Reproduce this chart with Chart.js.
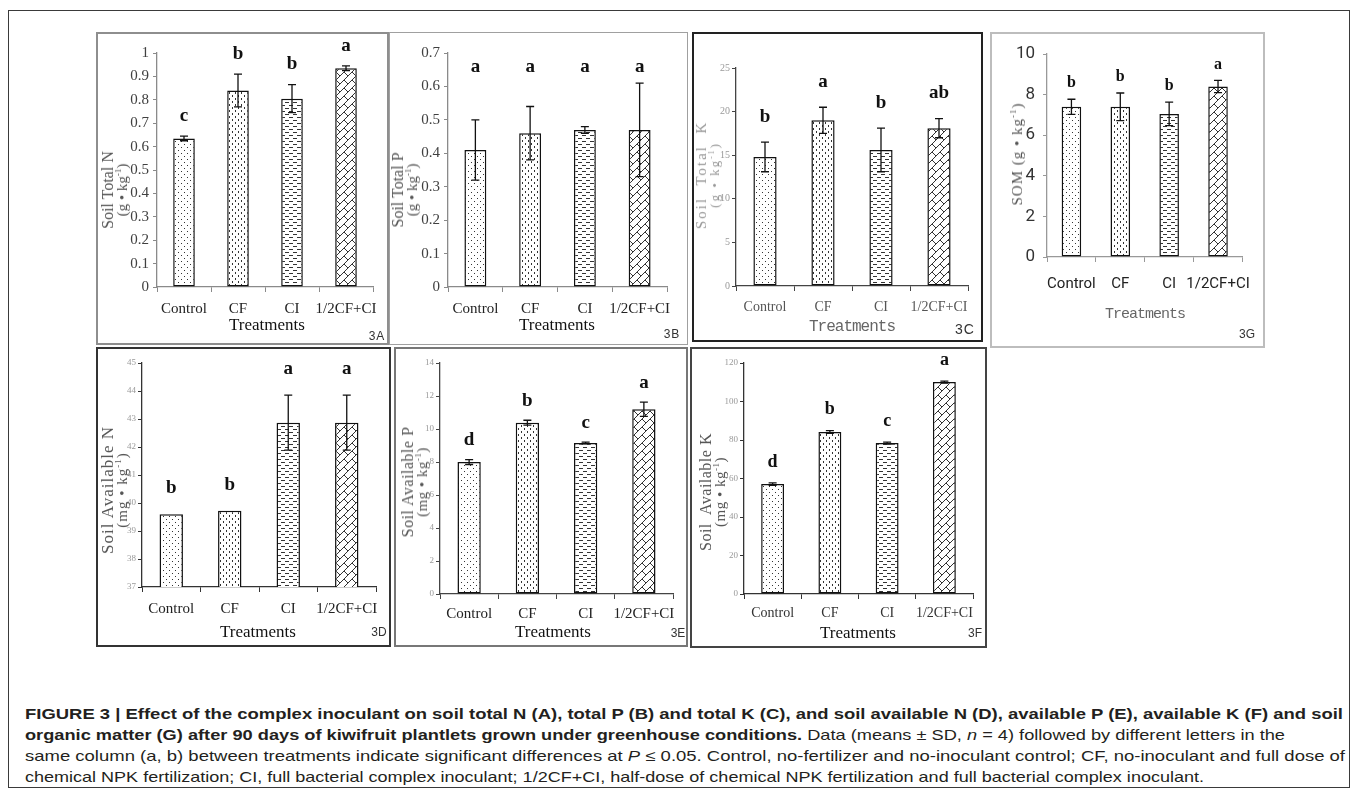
<!DOCTYPE html>
<html>
<head>
<meta charset="utf-8">
<script src="https://cdn.jsdelivr.net/npm/chart.js@4.4.0/dist/chart.umd.min.js"></script>
<style>
html, body { margin: 0; padding: 0; background: #fff; }
body { width: 1357px; height: 791px; position: relative; overflow: hidden; }
.frame { position: absolute; left: 8px; top: 10px; width: 1342px; height: 778px; border: 1.5px solid #3a3a3a; box-sizing: border-box; }
.box { position: absolute; box-sizing: border-box; }
canvas { position: absolute; }
.txt { position: absolute; white-space: nowrap; transform: translate(-50%, -50%); }
.ytitle { position: absolute; white-space: nowrap; text-align: center; transform: translate(-50%, -50%) rotate(-90deg); }
.ytitle sup { font-size: 0.6em; line-height: 0; }
.cap { position: absolute; left: 25px; white-space: nowrap; font-family: "Liberation Sans", Arial, sans-serif; font-size: 15px; line-height: 20px; color: #231f20; transform-origin: 0 50%; }
</style>
</head>
<body>
<div class="frame"></div>
<div id="caption">
  <div class="cap" data-w="1318" style="top:704px"><b>FIGURE 3 | Effect of the complex inoculant on soil total N (A), total P (B) and total K (C), and soil available N (D), available P (E), available K (F) and soil</b></div>
  <div class="cap" data-w="1260" style="top:725px"><b>organic matter (G) after 90 days of kiwifruit plantlets grown under greenhouse conditions.</b> Data (means ± SD, <i>n</i> = 4) followed by different letters in the</div>
  <div class="cap" data-w="1320" style="top:746px">same column (a, b) between treatments indicate significant differences at <i>P</i> ≤ 0.05. Control, no-fertilizer and no-inoculant control; CF, no-inoculant and full dose of</div>
  <div class="cap" data-w="1179" style="top:767px">chemical NPK fertilization; CI, full bacterial complex inoculant; 1/2CF+CI, half-dose of chemical NPK fertilization and full bacterial complex inoculant.</div>
</div>
<script>
// treatments shared by every panel
const treatments = ['Control', 'CF', 'CI', '1/2CF+CI'];

// 3A soil total N (g/kg)
const totalN = [0.635, 0.84, 0.805, 0.935];
const totalNSd = [0.01, 0.07, 0.06, 0.01];
const totalNSig = ['c', 'b', 'b', 'a'];

// 3B soil total P (g/kg)
const totalP = [0.41, 0.46, 0.47, 0.47];
const totalPSd = [0.09, 0.08, 0.01, 0.14];
const totalPSig = ['a', 'a', 'a', 'a'];

// 3C soil total K (g/kg)
const totalK = [14.8, 19.0, 15.6, 18.1];
const totalKSd = [1.7, 1.5, 2.5, 1.1];
const totalKSig = ['b', 'a', 'b', 'ab'];

// 3G soil organic matter (g/kg)
const som = [7.4, 7.4, 7.05, 8.4];
const somSd = [0.37, 0.68, 0.58, 0.3];
const somSig = ['b', 'b', 'b', 'a'];

// 3D soil available N (mg/kg)
const availN = [39.6, 39.72, 42.87, 42.87];
const availNSd = [0, 0, 0.98, 0.98];
const availNSig = ['b', 'b', 'a', 'a'];

// 3E soil available P (mg/kg)
const availP = [8.0, 10.38, 9.15, 11.2];
const availPSd = [0.15, 0.15, 0.05, 0.43];
const availPSig = ['d', 'b', 'c', 'a'];

// 3F soil available K (mg/kg)
const availK = [57.1, 84.2, 78.4, 110.1];
const availKSd = [0.6, 0.7, 0.5, 0.5];
const availKSig = ['d', 'b', 'c', 'a'];

const serif = '"Liberation Serif", "Times New Roman", serif';
const narrow = '"Liberation Sans Narrow", "Roboto", sans-serif';
const mono = '"Liberation Mono", "DejaVu Sans Mono", monospace';

// fill patterns for the four treatments
function makePattern(w, h, draw) {
  const c = document.createElement('canvas');
  c.width = w; c.height = h;
  const g = c.getContext('2d');
  g.fillStyle = '#fff';
  g.fillRect(0, 0, w, h);
  g.fillStyle = '#333';
  g.strokeStyle = '#333';
  draw(g);
  return c.getContext('2d').createPattern(c, 'repeat');
}
const patDots = makePattern(6, 6, g => { g.fillRect(1, 1, 1, 1); g.fillRect(4, 4, 1, 1); });
const patVDash = makePattern(6, 6, g => { g.fillRect(1, 0, 1, 2); g.fillRect(4, 3, 1, 2); });
const patHDash = makePattern(8, 6, g => { g.fillRect(1, 1, 4, 1); g.fillRect(5, 4, 3, 1); g.fillRect(0, 4, 1, 1); });
const patCross = makePattern(8, 8, g => {
  g.lineWidth = 1;
  g.beginPath();
  g.moveTo(0, 8); g.lineTo(8, 0);
  g.moveTo(0, 0); g.lineTo(4, 4);
  g.stroke();
});
const fills = [patDots, patVDash, patHDash, patCross];

// error bars and significance letters, drawn through the y scale
const errorLetters = {
  id: 'errorLetters',
  afterDatasetsDraw(chart, args, opts) {
    const ctx = chart.ctx;
    const y = chart.scales.y;
    const bars = chart.getDatasetMeta(0).data;
    const vals = chart.data.datasets[0].data;
    ctx.save();
    bars.forEach((bar, i) => {
      const v = vals[i], e = opts.sd[i];
      const top = y.getPixelForValue(v + e);
      if (e > 0) {
        const bot = y.getPixelForValue(v - e);
        ctx.strokeStyle = '#111';
        ctx.lineWidth = 1.3;
        ctx.beginPath();
        ctx.moveTo(bar.x, top); ctx.lineTo(bar.x, bot);
        ctx.moveTo(bar.x - 4, top); ctx.lineTo(bar.x + 4, top);
        ctx.moveTo(bar.x - 4, bot); ctx.lineTo(bar.x + 4, bot);
        ctx.stroke();
      }
      ctx.fillStyle = '#111';
      ctx.font = opts.font;
      ctx.textAlign = 'center';
      ctx.textBaseline = 'middle';
      const ly = opts.level != null ? y.getPixelForValue(opts.level) : top - opts.gap;
      ctx.fillText(opts.sig[i], bar.x, ly);
    });
    ctx.restore();
  }
};

const panels = [
  { tag: '3A', box: [96, 32, 389, 345], border: '2px solid #8e8e8e', area: [157, 53, 373, 287],
    values: totalN, sd: totalNSd, sig: totalNSig, min: 0, max: 1, step: 0.1,
    yFont: { family: serif, size: 15 }, yColor: '#404040', yPad: 4,
    xFont: { family: serif, size: 15 }, xColor: '#222', xPad: 8, axis: '#8a8a8a',
    sigFont: 'bold 19px ' + serif, gap: 20,
    title: ['Soil Total N', '(g • kg<sup>-1</sup>)'], titleAt: [115, 190], titleCss: 'font-family:' + serif + ';color:#555;line-height:14px', titleSizes: [16, 15],
    treatAt: [267, 325], treatCss: 'font:17px ' + serif + ';color:#111',
    tagAt: [377, 336], tagCss: 'font:12px "Liberation Sans";color:#333;letter-spacing:1px' },
  { tag: '3B', box: [389, 32, 688, 345], border: '1.5px solid #a0a0a0', area: [448, 53, 667, 287],
    values: totalP, sd: totalPSd, sig: totalPSig, min: 0, max: 0.7, step: 0.1,
    yFont: { family: serif, size: 15 }, yColor: '#404040', yPad: 4,
    xFont: { family: serif, size: 15 }, xColor: '#222', xPad: 8, axis: '#8a8a8a',
    sigFont: 'bold 19px ' + serif, level: 0.658,
    title: ['Soil Total P', '(g • kg<sup>-1</sup>)'], titleAt: [405, 190], titleCss: 'font-family:' + serif + ';color:#555;line-height:14px', titleSizes: [16, 15],
    treatAt: [557, 325], treatCss: 'font:17px ' + serif + ';color:#111',
    tagAt: [672, 334], tagCss: 'font:12px "Liberation Sans";color:#333;letter-spacing:1px' },
  { tag: '3C', box: [692, 32, 983, 342], border: '2px solid #222', area: [736, 68, 968, 286],
    values: totalK, sd: totalKSd, sig: totalKSig, min: 0, max: 25, step: 5,
    yFont: { family: serif, size: 10 }, yColor: '#999', yPad: 2,
    xFont: { family: serif, size: 14 }, xColor: '#555', xPad: 8, axis: '#444',
    sigFont: 'bold 19px ' + serif, gap: 25,
    title: ['Soil&nbsp; Total&nbsp; K', '(g • kg<sup>-1</sup>)'], titleAt: [708, 175], titleCss: 'font-family:' + serif + ';color:#999;line-height:13px;letter-spacing:2px', titleSizes: [15, 13],
    treatAt: [852, 327], treatCss: 'font:16px ' + mono + ';color:#666;letter-spacing:-1px',
    tagAt: [965, 329], tagCss: 'font:14px "Liberation Sans";color:#333;letter-spacing:1px' },
  { tag: '3G', box: [990, 32, 1265, 348], border: '2px solid #bdbdbd', area: [1047, 54, 1247, 257],
    values: som, sd: somSd, sig: somSig, min: 0, max: 10, step: 2,
    yFont: { family: narrow, size: 17 }, yColor: '#333', yPad: 8,
    xFont: { family: narrow, size: 15 }, xColor: '#222', xPad: 13, axis: '#999',
    sigFont: 'bold 16px ' + serif, gap: 16,
    title: ['SOM (g • kg<sup>-1</sup>)'], titleAt: [1017, 154], titleCss: 'font-family:' + serif + ';color:#555;line-height:14px;letter-spacing:1px', titleSizes: [15],
    treatAt: [1145, 314], treatCss: 'font:15px ' + mono + ';color:#666;letter-spacing:-1px',
    tagAt: [1247, 334], tagCss: 'font:12px "Liberation Sans";color:#333' },
  { tag: '3D', box: [96, 347, 391, 647], border: '2px solid #333', area: [142, 363, 376, 587],
    values: availN, sd: availNSd, sig: availNSig, min: 37, max: 45, step: 1,
    yFont: { family: serif, size: 9 }, yColor: '#999', yPad: 2,
    xFont: { family: serif, size: 15 }, xColor: '#222', xPad: 8, axis: '#333',
    sigFont: 'bold 19px ' + serif, gap: 26,
    title: ['Soil Available N', '(mg • kg<sup>-1</sup>)'], titleAt: [115, 490], titleCss: 'font-family:' + serif + ';color:#555;line-height:14px;letter-spacing:1px', titleSizes: [17, 15],
    treatAt: [258, 632], treatCss: 'font:17px ' + serif + ';color:#111',
    tagAt: [379, 632], tagCss: 'font:12px "Liberation Sans";color:#333' },
  { tag: '3E', box: [394, 347, 688, 647], border: '2px solid #777', area: [440, 363, 673, 594],
    values: availP, sd: availPSd, sig: availPSig, min: 0, max: 14, step: 2,
    yFont: { family: serif, size: 9 }, yColor: '#999', yPad: 2,
    xFont: { family: serif, size: 15 }, xColor: '#222', xPad: 6, axis: '#444',
    sigFont: 'bold 19px ' + serif, gap: 19,
    title: ['Soil Available P', '(mg • kg<sup>-1</sup>)'], titleAt: [415, 482], titleCss: 'font-family:' + serif + ';color:#555;line-height:14px;letter-spacing:0.5px', titleSizes: [16, 15],
    treatAt: [553, 632], treatCss: 'font:17px ' + serif + ';color:#111',
    tagAt: [678, 633], tagCss: 'font:12px "Liberation Sans";color:#333' },
  { tag: '3F', box: [690, 347, 987, 648], border: '2px solid #444', area: [744, 363, 973, 594],
    values: availK, sd: availKSd, sig: availKSig, min: 0, max: 120, step: 20,
    yFont: { family: serif, size: 9 }, yColor: '#999', yPad: 2,
    xFont: { family: serif, size: 14 }, xColor: '#333', xPad: 6, axis: '#333',
    sigFont: 'bold 18px ' + serif, gap: 21,
    title: ['Soil&nbsp; Available K', '(mg • kg<sup>-1</sup>)'], titleAt: [713, 492], titleCss: 'font-family:' + serif + ';color:#555;line-height:14px;letter-spacing:0.5px', titleSizes: [16, 15],
    treatAt: [858, 633], treatCss: 'font:17px ' + serif + ';color:#111',
    tagAt: [975, 633], tagCss: 'font:12px "Liberation Sans";color:#333' }
];

function addText(cls, x, y, css, html) {
  const d = document.createElement('div');
  d.className = cls;
  d.style.cssText = 'left:' + x + 'px;top:' + y + 'px;' + css;
  d.innerHTML = html;
  document.body.appendChild(d);
  return d;
}

panels.forEach(p => {
  const [bl, bt, br, bb] = p.box;
  const [al, at, ar, ab] = p.area;
  const box = document.createElement('div');
  box.className = 'box';
  box.style.cssText = 'left:' + bl + 'px;top:' + bt + 'px;width:' + (br - bl) + 'px;height:' + (bb - bt) + 'px;border:' + p.border;
  document.body.appendChild(box);

  const cv = document.createElement('canvas');
  cv.width = br - bl; cv.height = bb - bt;
  cv.style.cssText = 'left:' + bl + 'px;top:' + bt + 'px;width:' + (br - bl) + 'px;height:' + (bb - bt) + 'px';
  document.body.appendChild(cv);

  const yW = al - bl, xH = bb - ab;
  new Chart(cv, {
    type: 'bar',
    data: {
      labels: treatments,
      datasets: [{
        data: p.values,
        backgroundColor: fills,
        borderColor: '#111',
        borderWidth: 1.5,
        borderSkipped: false,
        barPercentage: 0.4,
        categoryPercentage: 1
      }]
    },
    options: {
      responsive: false,
      animation: false,
      devicePixelRatio: 1,
      layout: { padding: { left: 0, top: at - bt, right: br - ar, bottom: 0 } },
      plugins: {
        legend: { display: false },
        tooltip: { enabled: false },
        errorLetters: { sd: p.sd, sig: p.sig, font: p.sigFont, gap: p.gap, level: p.level }
      },
      scales: {
        x: {
          grid: { display: true, drawOnChartArea: false, drawTicks: true, tickLength: 5, color: p.axis, offset: true },
          border: { display: true, color: p.axis, width: 1.3 },
          ticks: { font: p.xFont, color: p.xColor, padding: p.xPad, autoSkip: false, maxRotation: 0 },
          afterFit: s => { s.height = xH; }
        },
        y: {
          min: p.min,
          max: p.max,
          grid: { display: true, drawOnChartArea: false, drawTicks: true, tickLength: 4, color: p.axis },
          border: { display: true, color: p.axis, width: 1.3 },
          ticks: { stepSize: p.step, font: p.yFont, color: p.yColor, padding: p.yPad, callback: v => String(+v.toFixed(2)) },
          afterFit: s => { s.width = yW; }
        }
      }
    },
    plugins: [errorLetters]
  });

  const lines = p.title.map((t, i) => '<div style="font-size:' + p.titleSizes[i] + 'px">' + t + '</div>').join('');
  addText('ytitle', p.titleAt[0], p.titleAt[1], p.titleCss, lines);
  addText('txt', p.treatAt[0], p.treatAt[1], p.treatCss, 'Treatments');
  addText('txt', p.tagAt[0], p.tagAt[1], p.tagCss, p.tag);
});

// stretch each caption line to the width it has in the figure
document.querySelectorAll('.cap').forEach(el => {
  const w = el.getBoundingClientRect().width;
  el.style.transform = 'scaleX(' + (+el.dataset.w / w) + ')';
});
</script>
</body>
</html>
